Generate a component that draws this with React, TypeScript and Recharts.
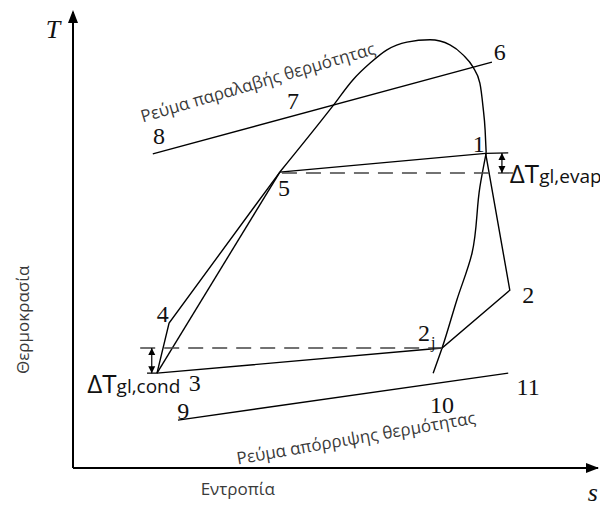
import React from 'react';
import { ComposedChart, Line, Scatter, XAxis, YAxis } from 'recharts';

type Pt = { s: number; T: number };

// axes drawn as series so the arrowheads line up with them
const sAxis: Pt[] = [
  { s: 0, T: 0 },
  { s: 10, T: 0 },
];
const tAxis: Pt[] = [
  { s: 0, T: 0 },
  { s: 0, T: 10 },
];
const axisTips: Pt[] = [
  { s: 10, T: 0 },
  { s: 0, T: 10 },
];

// saturation dome: straight liquid branch 3-5, curved top from 5 to 1, vapour side from 1 downwards
const domeLiquid: Pt[] = [
  { s: 1.6, T: 2.08 },
  { s: 3.94, T: 6.49 },
];
const domeTop: Pt[] = [
  { s: 3.94, T: 6.49 },
  { s: 4.95, T: 7.94 },
  { s: 5.33, T: 8.51 },
  { s: 5.66, T: 8.88 },
  { s: 5.98, T: 9.17 },
  { s: 6.36, T: 9.34 },
  { s: 6.8, T: 9.39 },
  { s: 7.18, T: 9.28 },
  { s: 7.43, T: 9.06 },
  { s: 7.62, T: 8.79 },
  { s: 7.75, T: 8.44 },
  { s: 7.81, T: 7.92 },
  { s: 7.85, T: 7.41 },
  { s: 7.87, T: 6.91 },
];
const domeVapour: Pt[] = [
  { s: 7.87, T: 6.91 },
  { s: 7.75, T: 6.16 },
  { s: 7.6, T: 4.71 },
  { s: 7.31, T: 3.68 },
  { s: 7.03, T: 2.63 },
  { s: 6.86, T: 2.08 },
];

// refrigerant cycle: 3-4-5-1 (expansion + evaporation), 1-2-2j-3 (compression + condensation)
const cycleUpper: Pt[] = [
  { s: 1.6, T: 2.08 },
  { s: 1.83, T: 3.18 },
  { s: 3.94, T: 6.49 },
  { s: 7.86, T: 6.9 },
  { s: 8.29, T: 6.91 },
];
const cycleLower: Pt[] = [
  { s: 7.86, T: 6.9 },
  { s: 8.32, T: 3.9 },
  { s: 7.03, T: 2.63 },
  { s: 1.6, T: 2.08 },
  { s: 1.41, T: 2.08 },
];

// secondary fluids: heat source 8-7-6, heat sink 9-10-11
const sourceStream: Pt[] = [
  { s: 1.52, T: 6.89 },
  { s: 7.98, T: 8.9 },
];
const sinkStream: Pt[] = [
  { s: 2.0, T: 1.05 },
  { s: 8.29, T: 2.08 },
];

// dashed reference levels for the temperature glide
const evapLevel: Pt[] = [
  { s: 3.98, T: 6.47 },
  { s: 8.38, T: 6.47 },
];
const condLevel: Pt[] = [
  { s: 1.28, T: 2.63 },
  { s: 7.03, T: 2.63 },
];

// double arrows marking the glide
const evapGlide: Pt[] = [
  { s: 8.17, T: 6.47 },
  { s: 8.17, T: 6.91 },
];
const condGlide: Pt[] = [
  { s: 1.5, T: 2.63 },
  { s: 1.5, T: 2.08 },
];

const stateLabels = [
  { text: '1', s: 7.73, T: 7.11 },
  { text: '2', s: 8.67, T: 3.79 },
  { text: '2', sub: 'j', s: 6.74, T: 2.96 },
  { text: '3', s: 2.32, T: 1.86 },
  { text: '4', s: 1.71, T: 3.38 },
  { text: '5', s: 4.02, T: 6.14 },
  { text: '6', s: 8.13, T: 9.12 },
  { text: '7', s: 4.19, T: 8.05 },
  { text: '8', s: 1.64, T: 7.28 },
  { text: '9', s: 2.1, T: 1.25 },
  { text: '10', s: 7.03, T: 1.38 },
  { text: '11', s: 8.67, T: 1.78 },
];

const glideLabels = [
  { text: 'ΔT', sub: 'gl,evap', s: 8.32, T: 6.25 },
  { text: 'ΔT', sub: 'gl,cond', s: 0.27, T: 1.64 },
];

const streamLabels = [
  { text: 'Ρεύμα παραλαβής θερμότητας', s: 3.52, T: 8.47, angle: -16.4 },
  { text: 'Ρεύμα απόρριψης θερμότητας', s: 5.39, T: 0.67, angle: -9.8 },
];

const axisTitles = [
  { text: 'T', s: 0, T: 9.6 },
  { text: 's', s: 9.9, T: 0 },
  { text: 'Εντροπία', s: 3.14, T: 0 },
  { text: 'Θερμοκρασία', s: 0, T: 3.25 },
];

const SERIF = '"Liberation Serif", "Times New Roman", serif';
const SANS = '"Open Sans", "Noto Sans", sans-serif';
const GREY = '#3a3a3a';

function StateLabel(p: any) {
  const { cx, cy, payload } = p;
  return (
    <text x={cx} y={cy + 8} textAnchor="middle" fontFamily={SERIF} fontSize={24} fill="#111">
      {payload.text}
      {payload.sub && (
        <tspan fontSize={16} dx={1} dy={7}>
          {payload.sub}
        </tspan>
      )}
    </text>
  );
}

function GlideLabel(p: any) {
  const { cx, cy, payload } = p;
  return (
    <text x={cx} y={cy} fontFamily={SANS} fontSize={26} fill="#111">
      {payload.text}
      <tspan fontSize={19}>{payload.sub}</tspan>
    </text>
  );
}

function StreamLabel(p: any) {
  const { cx, cy, payload } = p;
  return (
    <text
      x={cx}
      y={cy}
      textAnchor="middle"
      dominantBaseline="central"
      fontFamily={SANS}
      fontSize={17}
      fill={GREY}
      transform={`rotate(${payload.angle}, ${cx}, ${cy})`}
    >
      {payload.text}
    </text>
  );
}

function AxisTitle(p: any) {
  const { cx, cy, payload } = p;
  if (payload.text === 'T' || payload.text === 's') {
    const dx = payload.text === 'T' ? -20 : 0;
    const dy = payload.text === 'T' ? 8 : 33;
    return (
      <text x={cx + dx} y={cy + dy} textAnchor="middle" fontFamily={SERIF} fontStyle="italic" fontSize={26} fill="#111">
        {payload.text}
      </text>
    );
  }
  if (payload.text === 'Θερμοκρασία') {
    const x = cx - 50;
    return (
      <text
        x={x}
        y={cy}
        textAnchor="middle"
        dominantBaseline="central"
        fontFamily={SANS}
        fontSize={17}
        fill={GREY}
        transform={`rotate(-90, ${x}, ${cy})`}
      >
        {payload.text}
      </text>
    );
  }
  return (
    <text x={cx} y={cy + 20} textAnchor="middle" dominantBaseline="central" fontFamily={SANS} fontSize={17} fill={GREY}>
      {payload.text}
    </text>
  );
}

function AxisTip(p: any) {
  const { cx, cy, payload } = p;
  const pts =
    payload.s > 5
      ? `${cx + 1},${cy} ${cx - 12},${cy - 5} ${cx - 12},${cy + 5}`
      : `${cx},${cy - 2} ${cx - 5},${cy + 11} ${cx + 5},${cy + 11}`;
  return <polygon points={pts} fill="#000" />;
}

// small arrowhead at each end of a glide marker, pointing away from the other end
const glideDot = (data: Pt[]) => (p: any) => {
  const { cx, cy, payload, index } = p;
  const up = payload.T >= Math.max(...data.map((d) => d.T));
  const pts = up
    ? `${cx},${cy} ${cx - 3.5},${cy + 7} ${cx + 3.5},${cy + 7}`
    : `${cx},${cy} ${cx - 3.5},${cy - 7} ${cx + 3.5},${cy - 7}`;
  return <polygon key={index} points={pts} fill="#000" />;
};

const lineProps = {
  dataKey: 'T',
  stroke: '#000',
  strokeWidth: 1.4,
  dot: false,
  activeDot: false,
  isAnimationActive: false,
  legendType: 'none' as const,
};

export default function App() {
  return (
    <div style={{ width: 600, height: 500 }}>
      <ComposedChart width={600} height={500} margin={{ top: 4, right: 10, bottom: 40, left: 65 }}>
        <XAxis type="number" dataKey="s" domain={[0, 10]} height={0} tick={false} tickLine={false} axisLine={false} />
        <YAxis type="number" dataKey="T" domain={[0, 10]} width={0} tick={false} tickLine={false} axisLine={false} />

        <Line {...lineProps} data={sAxis} type="linear" strokeWidth={2} />
        <Line {...lineProps} data={tAxis} type="linear" strokeWidth={2} />

        <Line {...lineProps} data={domeLiquid} type="linear" />
        <Line {...lineProps} data={domeTop} type="monotoneX" />
        <Line {...lineProps} data={domeVapour} type="monotoneY" />
        <Line {...lineProps} data={cycleUpper} type="linear" />
        <Line {...lineProps} data={cycleLower} type="linear" />
        <Line {...lineProps} data={sourceStream} type="linear" />
        <Line {...lineProps} data={sinkStream} type="linear" />
        <Line {...lineProps} data={evapLevel} type="linear" stroke="#444" strokeDasharray="15 9" />
        <Line {...lineProps} data={condLevel} type="linear" stroke="#444" strokeDasharray="15 9" />
        <Line {...lineProps} data={evapGlide} type="linear" strokeWidth={1.2} dot={glideDot(evapGlide)} />
        <Line {...lineProps} data={condGlide} type="linear" strokeWidth={1.2} dot={glideDot(condGlide)} />

        <Scatter data={axisTips} dataKey="T" shape={AxisTip} isAnimationActive={false} />
        <Scatter data={stateLabels} dataKey="T" shape={StateLabel} isAnimationActive={false} />
        <Scatter data={glideLabels} dataKey="T" shape={GlideLabel} isAnimationActive={false} />
        <Scatter data={streamLabels} dataKey="T" shape={StreamLabel} isAnimationActive={false} />
        <Scatter data={axisTitles} dataKey="T" shape={AxisTitle} isAnimationActive={false} />
      </ComposedChart>
    </div>
  );
}
